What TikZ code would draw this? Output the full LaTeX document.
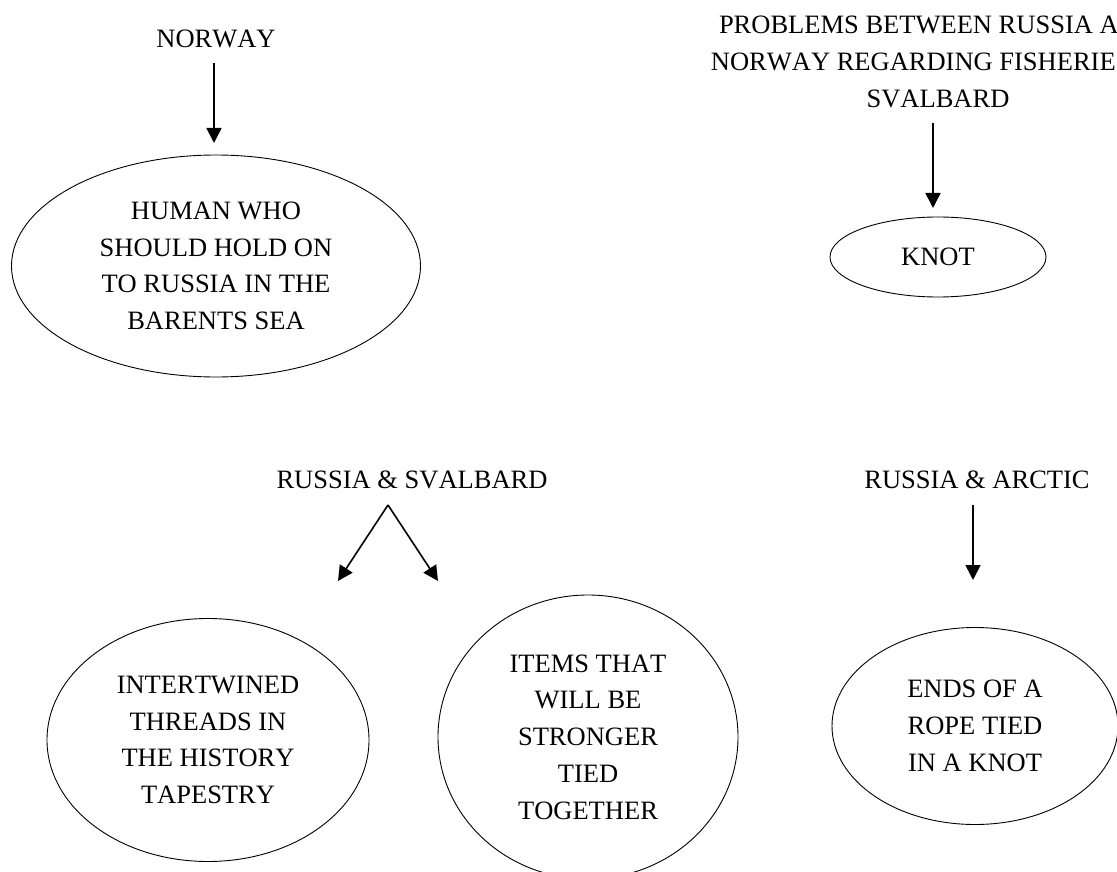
\documentclass[tikz,border=0pt]{standalone}
\usepackage{fontspec}
\setmainfont[Kerning=Off]{Liberation Serif}
\usetikzlibrary{shapes.geometric,arrows.meta}
\begin{document}
\begin{tikzpicture}[x=1pt,y=-1pt,
  every node/.style={font=\fontsize{26.5}{36.7}\selectfont, inner sep=0pt, align=center},
  bubble/.style={ellipse, draw, line width=0.9pt},
  arr/.style={line width=1.6pt, -{Triangle[length=15pt,width=15pt]}}]
\useasboundingbox (0,0) rectangle (1117,872);

% top left: Norway
\node (norway) at (216,39) {NORWAY};
\node[bubble, minimum width=409pt, minimum height=222pt] (human) at (216,266)
  {HUMAN WHO\\SHOULD HOLD ON\\TO RUSSIA IN THE\\BARENTS SEA};
\coordinate (n1) at (214,63);
\coordinate (n2) at (214,143);
\draw[arr] (n1) -- (n2);

% top right: fisheries problems
\node (problems) at (938,62)
  {PROBLEMS BETWEEN RUSSIA AND\\NORWAY REGARDING FISHERIES IN\\SVALBARD};
\node[bubble, minimum width=216pt, minimum height=80pt] (knot) at (938,257) {KNOT};
\coordinate (p1) at (933,123);
\coordinate (p2) at (933,208);
\draw[arr] (p1) -- (p2);

% bottom left: Russia & Svalbard
\node (svalbard) at (412,480) {RUSSIA \& SVALBARD};
\node[bubble, minimum width=322pt, minimum height=243pt] (threads) at (208,740)
  {INTERTWINED\\THREADS IN\\THE HISTORY\\TAPESTRY};
\node[bubble, minimum width=300pt, minimum height=284pt] (items) at (588,737)
  {ITEMS THAT\\WILL BE\\STRONGER\\TIED\\TOGETHER};
\coordinate (apex) at (388,505);
\coordinate (tipL) at (338,581);
\coordinate (tipR) at (438,581);
\draw[arr] (apex) -- (tipL);
\draw[arr] (apex) -- (tipR);

% bottom right: Russia & Arctic
\node (arctic) at (977,480) {RUSSIA \& ARCTIC};
\node[bubble, minimum width=286pt, minimum height=197pt] (rope) at (975,726)
  {ENDS OF A\\ROPE TIED\\IN A KNOT};
\coordinate (a1) at (973,505);
\coordinate (a2) at (973,580);
\draw[arr] (a1) -- (a2);
\end{tikzpicture}
\end{document}
